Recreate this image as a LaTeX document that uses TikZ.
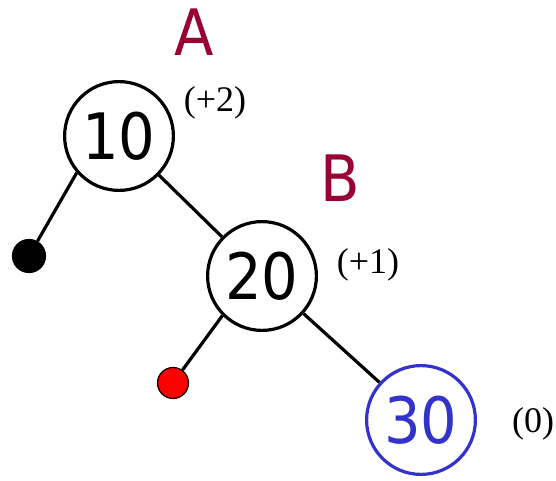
\documentclass[tikz,border=0pt]{standalone}
\usepackage{fontspec}
\setmainfont{Liberation Serif}
\newfontfamily\keyfont[FakeStretch=0.9]{DejaVu Sans}
\usepackage{tikz}
\usetikzlibrary{positioning}
\definecolor{rot}{RGB}{153,0,51}
\definecolor{blu}{RGB}{51,51,204}
\tikzset{
  key/.style={circle,draw=black,line width=1.6pt,fill=white,minimum size=54.4pt,inner sep=0pt,
    font=\keyfont\fontsize{32}{36}\selectfont},
  keynew/.style={key,draw=blu,text=blu},
  nil/.style={circle,draw=black,line width=0.6pt,minimum size=16.5pt,inner sep=0pt},
  edge/.style={line width=1.6pt,draw=black},
  rotlbl/.style={text=rot,anchor=base,inner sep=0pt,font=\keyfont\fontsize{32}{36}\selectfont},
  bal/.style={anchor=base,inner sep=0pt,font=\fontsize{18}{21}\selectfont},
}

\begin{document}
\begin{tikzpicture}[x=0.5pt,y=-0.5pt]
\useasboundingbox (0,0) rectangle (556,481);

\node[key] (n10) at (119,136) {10};
\node[key] (n20) at (262,276) {20};
\node[keynew] (n30) at (421,420) {30};

\node[nil,fill=black] (nilA) at (29,256) {};
\node[nil,fill=red,minimum size=15.5pt] (nilB) at (173,383) {};

% links
\draw[edge] (n10.221) -- (nilA);
\draw[edge] (n10) -- (n20);
\draw[edge] (n20.225) -- (nilB);
\draw[edge] (n20) -- (n30);

% names and balance factors
\node[rotlbl] (lA) at (194,56) {A};
\node[rotlbl] (lB) at (340,201) {B};
\node[bal] (b10) at (215,112) {(+2)};
\node[bal] (b20) at (368,273) {(+1)};
\node[bal] (b30) at (533,432) {(0)};
\end{tikzpicture}
\end{document}
